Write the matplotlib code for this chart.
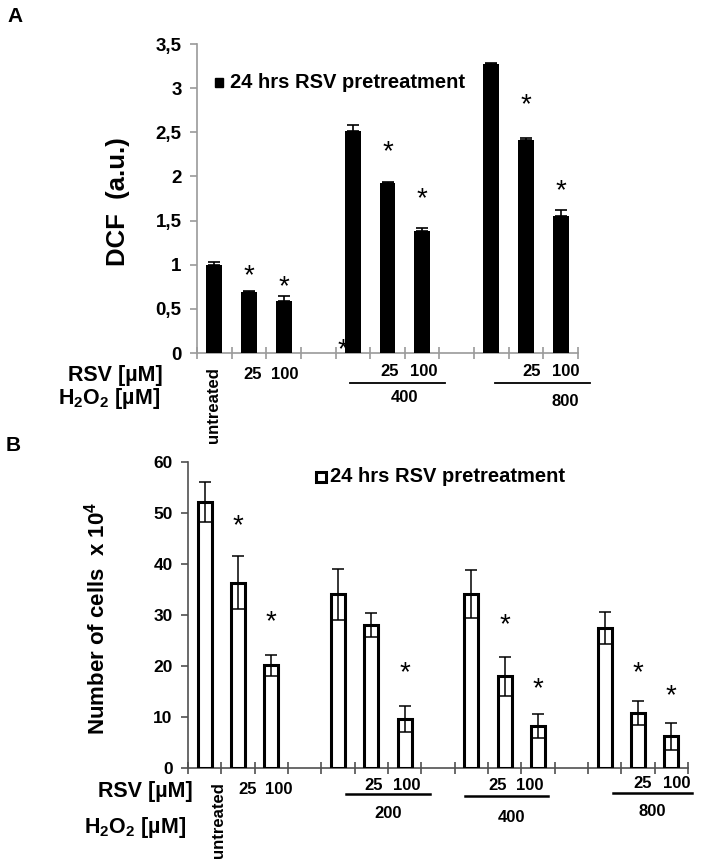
import matplotlib
matplotlib.use("Agg")
import matplotlib.pyplot as plt
import matplotlib.transforms as mtransforms
from matplotlib.lines import Line2D
from matplotlib.patches import Rectangle

# ---------------- data ----------------
# Panel A: DCF (a.u.)   slots: untreated, 25, 100, gap, 400, 25, 100, gap, 800, 25, 100
a_pos = [0, 1, 2, 4, 5, 6, 8, 9, 10]
a_vals = [1.00, 0.69, 0.585, 2.52, 1.93, 1.385, 3.27, 2.41, 1.555]
a_err = [0.03, 0.01, 0.06, 0.06, 0.01, 0.03, 0.01, 0.03, 0.07]
a_star_pos = [1, 2, 5, 6, 9, 10]
a_star_y = [0.87, 0.75, 2.28, 1.74, 2.81, 1.83]
a_yticks = [0, 0.5, 1, 1.5, 2, 2.5, 3, 3.5]
a_yticklabels = ["0", "0,5", "1", "1,5", "2", "2,5", "3", "3,5"]

# Panel B: Number of cells x 10^4
b_pos = [0, 1, 2, 4, 5, 6, 8, 9, 10, 12, 13, 14]
b_vals = [52.2, 36.3, 20.1, 34.1, 28.0, 9.6, 34.1, 18.0, 8.2, 27.5, 10.8, 6.2]
b_err = [3.9, 5.2, 2.0, 5.0, 2.3, 2.6, 4.7, 3.8, 2.4, 3.1, 2.3, 2.6]
b_star_pos = [1, 2, 6, 9, 10, 13, 14]
b_star_y = [47.5, 28.5, 18.5, 28.0, 15.5, 18.5, 14.0]
b_yticks = [0, 10, 20, 30, 40, 50, 60]

legend_text = "24 hrs RSV pretreatment"
h2o2_a = ["400", "800"]
h2o2_b = ["200", "400", "800"]

FONT = ["Liberation Sans", "DejaVu Sans"]
GRAY_A = "#9a9a9a"
GRAY_B = "#505050"

plt.rcParams["mathtext.default"] = "regular"

W, H = 702, 865
fig = plt.figure(figsize=(W / 100, H / 100), dpi=100)


def fx(px):
    return px / W


def fy(py):
    return 1 - py / H


def style_axes(ax, nslots, yticks, ylabels, color, fs):
    ax.set_xlim(-0.5, nslots - 0.5)
    for s in ["top", "right"]:
        ax.spines[s].set_visible(False)
    for s in ["left", "bottom"]:
        ax.spines[s].set_color(color)
        ax.spines[s].set_linewidth(1.2)
    ax.set_xticks([i - 0.5 for i in range(nslots + 1)])
    ax.set_xticklabels([])
    ax.tick_params(axis="x", direction="inout", length=8, width=1.2, color=color)
    ax.set_yticks(yticks)
    ax.set_yticklabels(ylabels, fontfamily=FONT, fontweight="bold", fontsize=fs)
    ax.tick_params(axis="y", direction="out", length=5, width=1.2, color=color, pad=6)


lab_kw = dict(fontfamily=FONT, fontweight="bold", fontsize=12, ha="center", va="center")
big_kw = dict(fontfamily=FONT, fontweight="bold", fontsize=15.5, ha="right", va="center")
star_kw = dict(ha="center", va="center", fontsize=20, fontfamily=FONT)

# ---------------- Panel A ----------------
axA = fig.add_axes([fx(197), fy(353), fx(578) - fx(197), fy(44) - fy(353)])
axA.set_ylim(0, 3.5)
axA.bar(a_pos, a_vals, width=0.46, color="black", zorder=3,
        yerr=[[0] * len(a_err), a_err],
        error_kw=dict(ecolor="black", elinewidth=1.2, capsize=4, capthick=1.2))
style_axes(axA, 11, a_yticks, a_yticklabels, GRAY_A, 13.5)
for xp, yp in zip(a_star_pos, a_star_y):
    axA.text(xp, yp, "*", zorder=4, **star_kw)
axA.text(3.72, 0.03, "*", zorder=2, clip_on=False, **star_kw)
axA.set_ylabel("DCF  (a.u.)", fontfamily=FONT, fontweight="bold", fontsize=18.5)
axA.yaxis.set_label_coords(-(197 - 130) / (578 - 197), 0.49)

# legend A
fig.add_artist(Rectangle((fx(215), fy(87)), fx(8), 9 / H, transform=fig.transFigure,
                         facecolor="black", edgecolor="black"))
fig.text(fx(230), fy(83), legend_text, fontfamily=FONT, fontweight="bold", fontsize=14.5,
         ha="left", va="center")

trA = mtransforms.blended_transform_factory(axA.transData, fig.transFigure)
axA.text(-0.02, fy(405), "untreated", rotation=90, transform=trA, **lab_kw)
axA.text(1.12, fy(375), "25", transform=trA, **lab_kw)
axA.text(2.04, fy(375), "100", transform=trA, **lab_kw)
groups_A = [(3.92, 6.67, 5.05, 6.06, 5.48, 398), (8.11, 10.86, 9.15, 10.14, 10.14, 402)]
for (x0, x1, x25, x100, xg, yg), lab in zip(groups_A, h2o2_a):
    axA.text(x25, fy(372), "25", transform=trA, **lab_kw)
    axA.text(x100, fy(372), "100", transform=trA, **lab_kw)
    fig.add_artist(Line2D([x0, x1], [fy(383), fy(383)], transform=trA, color="black", lw=1.3))
    axA.text(xg, fy(yg), lab, transform=trA, **lab_kw)

fig.text(fx(163), fy(376), "RSV [µM]", **big_kw)
fig.text(fx(160), fy(399), "H$_2$O$_2$ [µM]", **big_kw)
fig.text(fx(15), fy(16), "A", fontfamily=FONT, fontweight="bold", fontsize=15, ha="center", va="center")

# ---------------- Panel B ----------------
axB = fig.add_axes([fx(188), fy(768), fx(688) - fx(188), fy(462) - fy(768)])
axB.set_ylim(0, 60)
axB.bar(b_pos, b_vals, width=0.42, facecolor="white", edgecolor="black", linewidth=2.2, zorder=3,
        yerr=b_err, error_kw=dict(ecolor="black", elinewidth=1.1, capsize=4, capthick=1.1, zorder=4))
style_axes(axB, 15, b_yticks, [str(v) for v in b_yticks], GRAY_B, 12.5)
for xp, yp in zip(b_star_pos, b_star_y):
    axB.text(xp, yp, "*", zorder=5, **star_kw)
axB.set_ylabel("Number of cells  x 10$^4$", fontfamily=FONT, fontweight="bold", fontsize=16)
axB.yaxis.set_label_coords(-(188 - 110) / (688 - 188), 0.49)

fig.add_artist(Rectangle((fx(316), fy(482)), fx(10), 10 / H, transform=fig.transFigure,
                         facecolor="white", edgecolor="black", linewidth=2.2))
fig.text(fx(330), fy(477), legend_text, fontfamily=FONT, fontweight="bold", fontsize=14.5,
         ha="left", va="center")

trB = mtransforms.blended_transform_factory(axB.transData, fig.transFigure)
axB.text(0.4, fy(820), "untreated", rotation=90, transform=trB, **lab_kw)
axB.text(1.3, fy(789), "25", transform=trB, **lab_kw)
axB.text(2.23, fy(789), "100", transform=trB, **lab_kw)
groups_B = [(4.24, 6.76, 5.08, 6.07, 5.5, 814, 785, 794),
            (7.81, 10.3, 8.8, 9.76, 9.22, 817, 785, 796),
            (12.25, 14.62, 13.15, 14.17, 13.42, 812, 783, 793)]
for (x0, x1, x25, x100, xg, yg, yn, yl), lab in zip(groups_B, h2o2_b):
    axB.text(x25, fy(yn), "25", transform=trB, **lab_kw)
    axB.text(x100, fy(yn), "100", transform=trB, **lab_kw)
    fig.add_artist(Line2D([x0, x1], [fy(yl), fy(yl)], transform=trB, color="black", lw=1.8))
    axB.text(xg, fy(yg), lab, transform=trB, **lab_kw)

fig.text(fx(193), fy(792), "RSV [µM]", **big_kw)
fig.text(fx(186), fy(827), "H$_2$O$_2$ [µM]", **big_kw)
fig.text(fx(13), fy(446), "B", fontfamily=FONT, fontweight="bold", fontsize=15, ha="center", va="center")

fig.savefig("out.png", dpi=100, facecolor="white")
